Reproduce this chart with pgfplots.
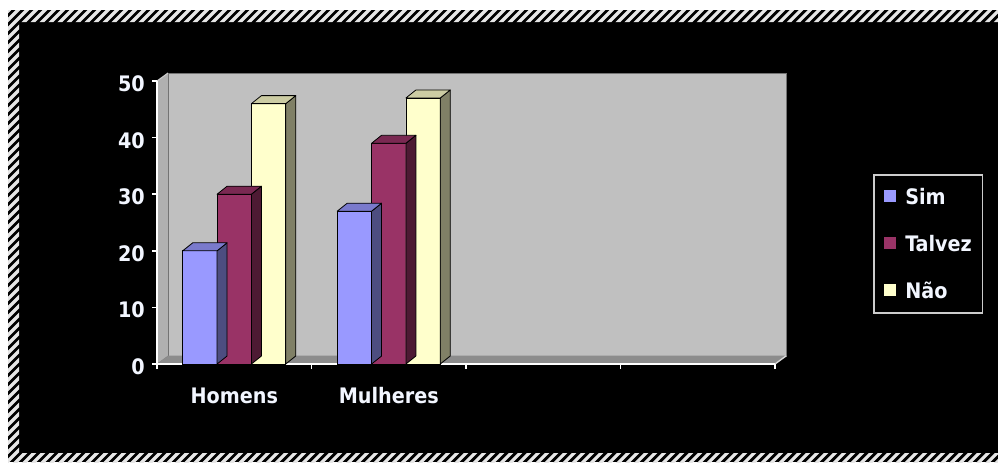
\documentclass[border=0pt]{standalone}
\usepackage{fontspec}
\setmainfont{DejaVu Sans Condensed}[BoldFont={DejaVu Sans Condensed Bold}]
\usepackage{pgfplots}
\pgfplotsset{compat=1.18}

\definecolor{sim}{HTML}{9999FF}
\definecolor{simtop}{HTML}{7A7ACC}
\definecolor{simside}{HTML}{4D4D80}
\definecolor{talvez}{HTML}{993366}
\definecolor{talveztop}{HTML}{7A2952}
\definecolor{talvezside}{HTML}{4D1A33}
\definecolor{nao}{HTML}{FFFFCC}
\definecolor{naotop}{HTML}{CCCCA3}
\definecolor{naoside}{HTML}{808066}
\definecolor{wall}{HTML}{C0C0C0}
\definecolor{sidewall}{HTML}{B0B0B0}
\definecolor{floorgray}{HTML}{8C8C8C}
\definecolor{hatch}{HTML}{E6E6E6}
\definecolor{lbl}{HTML}{F2F6FF}

\newcommand\lblfont{\fontsize{16}{18}\selectfont\bfseries}

% column geometry: depth offsets, half width, full width (pt) and pt per y unit
\def\dx{7.5}\def\dy{6}\def\hw{12.875}\def\ww{25.75}\def\yu{4.245}

% side and top faces of one column, drawn at the column's data point
\newcommand\barfaces[3]{%
  \pgfmathsetmacro\bh{\barval*\yu}%
  \pgfmathsetmacro\xr{#1+\hw}%
  \pgfmathsetmacro\xl{#1-\hw}%
  \filldraw[fill=#3,draw=black,line width=0.6pt,line join=round]
    (\xr pt,0pt) -- ++(\dx pt,\dy pt) -- ++(0pt,-\bh pt) -- ++(-\dx pt,-\dy pt) -- cycle;
  \filldraw[fill=#2,draw=black,line width=0.6pt,line join=round]
    (\xl pt,0pt) -- (\xr pt,0pt) -- ++(\dx pt,\dy pt) -- ++(-\ww pt,0pt) -- cycle;
}
\pgfdeclareplotmark{void}{}

\pgfplotsset{
  front/.style={ybar, bar width=25.75pt, bar shift=#1pt, draw=black, line width=0.6pt},
  sq/.style={legend image code/.code={\fill[#1] (0pt,-3.3pt) rectangle (8.25pt,4.95pt);}},
  faces/.style n args={3}{forget plot, scatter, only marks, mark=void,
    visualization depends on={rawy \as \barval},
    scatter/@pre marker code/.code={\barfaces{#1}{#2}{#3}},
    scatter/@post marker code/.code={}},
}

\begin{document}
\begin{tikzpicture}
\begin{scope}[x=0.75pt,y=0.75pt]
\useasboundingbox (0,0) rectangle (998,462);
\fill[white] (0,0) rectangle (998,462);
\fill[black] (8,0) rectangle (998,452);
% hatched frame
\begin{scope}[even odd rule]
  \clip (8,-2) rectangle (1000,452) (19,9) rectangle (1002,440);
  \foreach \i in {0,...,165}
    \draw[hatch, line width=2.4pt] (\i*9-480,-10) -- ++(480,480);
\end{scope}
% walls and floor
\fill[sidewall] (157,98) -- (168,106) -- (168,389) -- (157,381) -- cycle;
\draw[white!80!black, line width=0.8pt] (157,381) -- (168,389);
\filldraw[fill=wall, draw=black!55, line width=0.6pt] (168,106) rectangle (786,389);
\filldraw[fill=floorgray, draw=black!45, line width=0.5pt] (157,98) -- (775,98) -- (786,106) -- (168,106) -- cycle;
\draw[white!85!black, line width=1pt] (775,98) -- (786,106);
\end{scope}

\begin{axis}[
  at={(117.75pt,73.5pt)}, anchor=south west,
  scale only axis, width=463.5pt, height=212.25pt,
  xmin=-0.5, xmax=3.5, ymin=0, ymax=50,
  clip=false,
  axis x line*=bottom, axis y line*=left,
  every non boxed x axis/.append style={x axis line style=-},
  every non boxed y axis/.append style={y axis line style=-},
  axis line style={white, line width=1.3pt},
  ytick={0,10,...,50},
  xtick={0,1}, xticklabels={Homens,Mulheres},
  minor xtick={-0.5,0.5,1.5,2.5,3.5},
  tick align=outside,
  major tick length=3.75pt, minor tick length=3.75pt,
  major x tick style={draw=none},
  tick style={white, line width=1.3pt},
  ticklabel style={font=\lblfont, text=lbl},
  /pgf/number format/assume math mode=true,
  yticklabel style={inner sep=0pt, anchor=east, xshift=-5.25pt, yshift=-2pt},
  xticklabel style={inner sep=0pt, anchor=north, text height=11.5pt, text depth=0pt, yshift=-14pt},
  legend style={at={(1.1586,0.6714)}, anchor=north west,
    draw=white!80!black, line width=1.2pt, fill=black, text=lbl,
    font=\lblfont, inner xsep=8pt, inner ysep=10.75pt, row sep=23.9pt,
    nodes={inner sep=0pt, text height=11.5pt, text depth=0pt},
    /tikz/every odd column/.append style={column sep=6.75pt}},
  legend cell align=left,
]
\addplot[front=-25.75, fill=sim, sq=sim] coordinates {(0,20) (1,27)};
\addlegendentry{Sim}
\addplot[faces={-25.75}{simtop}{simside}] coordinates {(0,20) (1,27)};
\addplot[front=0, fill=talvez, sq=talvez] coordinates {(0,30) (1,39)};
\addlegendentry{Talvez}
\addplot[faces={0}{talveztop}{talvezside}] coordinates {(0,30) (1,39)};
\addplot[front=25.75, fill=nao, sq=nao] coordinates {(0,46) (1,47)};
\addlegendentry{Não}
\addplot[faces={25.75}{naotop}{naoside}] coordinates {(0,46) (1,47)};
\end{axis}
\end{tikzpicture}
\end{document}
